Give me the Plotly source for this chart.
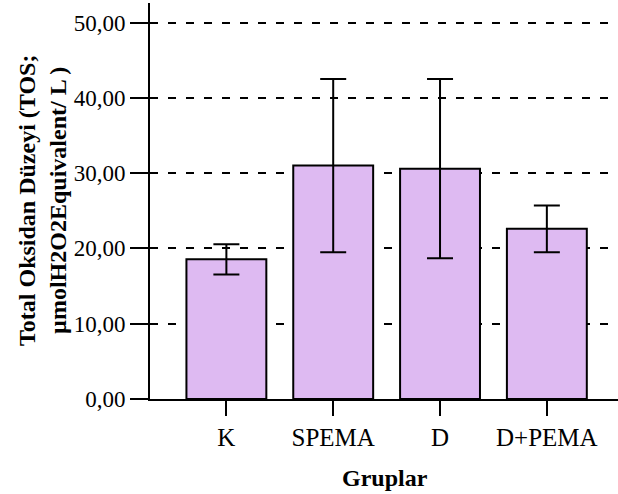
import plotly.graph_objects as go

# Total oxidant status per group (mean ± error)
groups = ["K", "SPEMA", "D", "D+PEMA"]
means = [18.55, 31.0, 30.6, 22.6]
errors = [2.0, 11.5, 11.9, 3.1]
y_ticks = [0, 10, 20, 30, 40, 50]
y_tick_labels = ["0,00", "10,00", "20,00", "30,00", "40,00", "50,00"]

serif = "Liberation Serif"

fig = go.Figure(
    go.Bar(
        x=list(range(len(groups))),
        y=means,
        width=0.748,
        marker=dict(color="#DEBAF2", line=dict(color="black", width=2)),
        error_y=dict(type="data", array=errors, visible=True,
                     color="black", thickness=2, width=13),
    )
)

fig.update_layout(
    width=618, height=494,
    margin=dict(l=150, r=0, t=3, b=95),
    plot_bgcolor="white", paper_bgcolor="white",
    showlegend=False,
    font=dict(family=serif, size=22, color="black"),
    xaxis=dict(
        range=[-0.715, 3.666],
        tickvals=list(range(len(groups))), ticktext=groups,
        ticks="outside", ticklen=15, tickwidth=2, tickcolor="black",
        showline=True, linecolor="black", linewidth=2,
        showgrid=False, zeroline=False,
        tickfont=dict(family=serif, size=25),
    ),
    yaxis=dict(
        range=[0, 52.6],
        tickvals=y_ticks, ticktext=y_tick_labels,
        ticks="outside", ticklen=18, tickwidth=2, tickcolor="black",
        showline=True, linecolor="black", linewidth=2,
        showgrid=True, gridcolor="black", gridwidth=2, griddash="8px,10px",
        zeroline=False,
        tickfont=dict(family=serif, size=23),
    ),
    annotations=[
        dict(text="<b>Gruplar</b>", xref="paper", yref="paper",
             x=0.502, y=-0.1995, xanchor="center", yanchor="middle",
             showarrow=False, font=dict(family=serif, size=24)),
        dict(text="<b>Total Oksidan Düzeyi (TOS;<br>µmolH2O2Equivalent/ L )</b>",
             xref="paper", yref="paper", x=-0.2308, y=0.5025,
             xanchor="center", yanchor="middle", textangle=-90,
             showarrow=False, font=dict(family=serif, size=24)),
    ],
)

fig.write_html("out.html")
